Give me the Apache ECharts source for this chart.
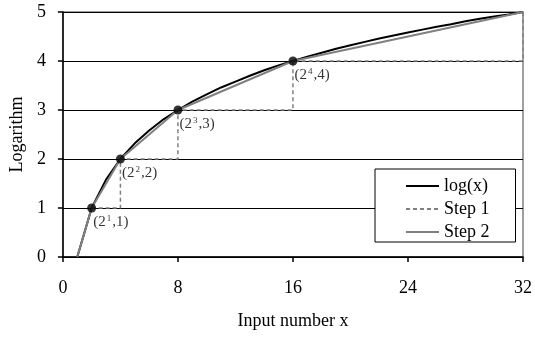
<!DOCTYPE html>
<html>
<head>
<meta charset="utf-8">
<script src="https://cdn.jsdelivr.net/npm/echarts@6/dist/echarts.min.js"></script>
<style>
  html, body { margin: 0; padding: 0; background: #fff; }
  #main { width: 535px; height: 338px; }
</style>
</head>
<body>
<div id="main"></div>
<script>
// values
var xValues = [1, 2, 3, 4, 5, 6, 7, 8, 9, 10, 11, 12, 13, 14, 15, 16,
               17, 18, 19, 20, 21, 22, 23, 24, 25, 26, 27, 28, 29, 30, 31, 32];
var logValues = [0, 1, 1.58, 2, 2.32, 2.58, 2.81, 3, 3.17, 3.32, 3.46, 3.58, 3.70, 3.81, 3.91, 4,
                 4.09, 4.17, 4.25, 4.32, 4.39, 4.46, 4.52, 4.58, 4.64, 4.70, 4.75, 4.81, 4.86, 4.91, 4.95, 5];
var step1X = [2, 4, 4, 8, 8, 16, 16, 32, 32];
var step1Y = [1, 1, 2, 2, 3, 3, 4, 4, 5];
var step2X = [1, 2, 4, 8, 16, 32];
var step2Y = [0, 1, 2, 3, 4, 5];
var dotX = [2, 4, 8, 16];
var dotY = [1, 2, 3, 4];
var dotExp = ['1', '2', '3', '4'];
var xTicks = [0, 8, 16, 24, 32];
var yTicks = [0, 1, 2, 3, 4, 5];

var FONT = "'Liberation Serif', 'Times New Roman', serif";

function pairs(xs, ys) {
    var out = [];
    for (var i = 0; i < xs.length; i++) out.push([xs[i], ys[i]]);
    return out;
}

var dots = [];
for (var i = 0; i < dotX.length; i++) {
    dots.push({value: [dotX[i], dotY[i]], exp: dotExp[i]});
}

var myChart = echarts.init(document.getElementById('main'));
var option = {
    animation: false,
    backgroundColor: '#fff',
    textStyle: {fontFamily: FONT},
    grid: {
        left: 62, right: 10, top: 12, bottom: 81,
        show: true, borderColor: '#808080', borderWidth: 1.5,
        backgroundColor: 'transparent'
    },
    legend: {
        data: ['log(x)', 'Step 1', 'Step 2'],
        orient: 'vertical',
        left: 375, top: 169,
        backgroundColor: '#fff',
        borderColor: '#000',
        borderWidth: 1,
        borderRadius: 0,
        padding: [8, 26, 1, 30],
        itemWidth: 33,
        itemHeight: 12,
        itemGap: 5,
        itemStyle: {opacity: 0},
        textStyle: {fontFamily: FONT, fontSize: 18, lineHeight: 18, color: '#000'}
    },
    xAxis: {
        type: 'value',
        min: xTicks[0], max: xTicks[xTicks.length - 1], interval: 8,
        name: 'Input number x',
        nameLocation: 'middle',
        nameGap: 55,
        nameTextStyle: {fontFamily: FONT, fontSize: 18, color: '#000'},
        axisLine: {lineStyle: {color: '#000', width: 1.5}},
        axisTick: {show: true, inside: false, length: 5, lineStyle: {color: '#000', width: 1.5}},
        axisLabel: {fontFamily: FONT, fontSize: 18, color: '#000', margin: 22},
        splitLine: {show: false}
    },
    yAxis: {
        type: 'value',
        min: yTicks[0], max: yTicks[yTicks.length - 1], interval: 1,
        name: 'Logarithm',
        nameLocation: 'middle',
        nameGap: 35,
        nameTextStyle: {fontFamily: FONT, fontSize: 18, color: '#000'},
        axisLine: {show: true, lineStyle: {color: '#000', width: 1.5}},
        axisTick: {show: true, inside: false, length: 5, lineStyle: {color: '#000', width: 1.5}},
        axisLabel: {fontFamily: FONT, fontSize: 18, color: '#000', margin: 17},
        splitLine: {show: true, lineStyle: {color: '#000', width: 1}}
    },
    series: [
        {
            name: 'log(x)',
            type: 'line',
            data: pairs(xValues, logValues),
            symbol: 'none',
            color: '#000',
            lineStyle: {color: '#000', width: 2},
            z: 3
        },
        {
            name: 'Step 1',
            type: 'line',
            data: pairs(step1X, step1Y),
            symbol: 'none',
            color: '#808080',
            lineStyle: {color: '#808080', width: 1.5, type: [4, 3]},
            z: 2
        },
        {
            name: 'Step 2',
            type: 'line',
            data: pairs(step2X, step2Y),
            symbol: 'none',
            color: '#808080',
            lineStyle: {color: '#808080', width: 2},
            z: 4
        },
        {
            name: 'points',
            type: 'scatter',
            data: dots,
            symbol: 'circle',
            symbolSize: 9,
            itemStyle: {color: '#000'},
            z: 5,
            label: {
                show: true,
                position: 'right',
                offset: [-8, 14],
                formatter: function (p) {
                    return '{m|(2}{s|' + p.data.exp + '}{m|,' + p.data.value[1] + ')}';
                },
                fontFamily: FONT,
                fontSize: 15,
                color: '#000',
                rich: {
                    m: {fontFamily: FONT, fontSize: 15, lineHeight: 15, color: '#000', verticalAlign: 'middle'},
                    s: {fontFamily: FONT, fontSize: 9, lineHeight: 9, color: '#000', verticalAlign: 'top', padding: [0, 1, 12, 1]}
                }
            }
        }
    ]
};
myChart.setOption(option);
</script>
</body>
</html>
